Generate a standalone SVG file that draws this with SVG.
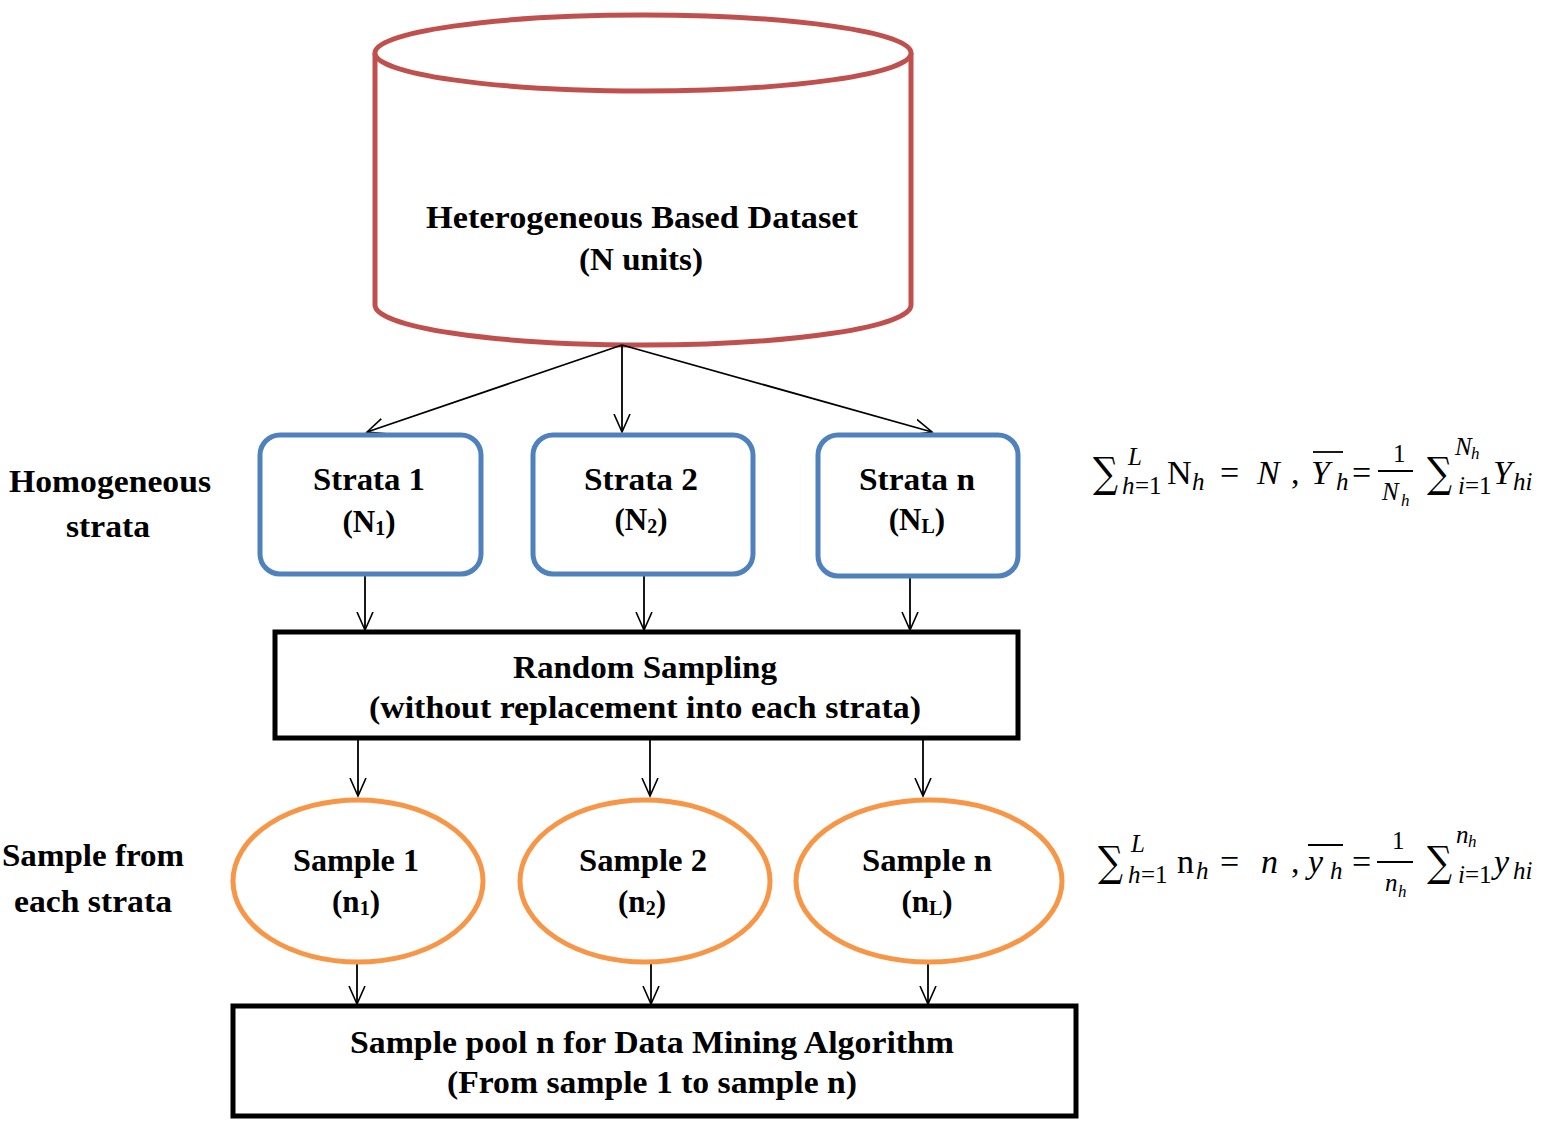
<svg xmlns="http://www.w3.org/2000/svg" width="1542" height="1121" viewBox="0 0 1542 1121">
<defs>
<marker id="arr" viewBox="0 0 20 20" refX="18" refY="10" markerWidth="20" markerHeight="20" markerUnits="userSpaceOnUse" orient="auto">
<polyline points="0,2 18,10 0,18" fill="none" stroke="#000" stroke-width="1.6"/>
</marker>
<style>
.t{font-family:"Liberation Serif","Times New Roman",serif;font-weight:bold;font-size:31px;fill:#000;text-anchor:middle}
.m{font-family:"Liberation Serif","DejaVu Serif",serif;font-size:34px;fill:#000}
.mi{font-family:"Liberation Serif","DejaVu Serif",serif;font-style:italic;font-size:34px;fill:#000}
.sg{font-family:"DejaVu Serif","Liberation Serif",serif;font-size:42px;fill:#000}
.s{font-family:"Liberation Serif","DejaVu Serif",serif;font-size:25px;fill:#000}
.si{font-family:"Liberation Serif","DejaVu Serif",serif;font-style:italic;font-size:25px;fill:#000}
.ss{font-family:"Liberation Serif","DejaVu Serif",serif;font-style:italic;font-size:17px;fill:#000}
.c{stroke:#000;stroke-width:1.8;fill:none;marker-end:url(#arr)}
.strata{fill:#fff;stroke:#4F81BD;stroke-width:5}
.samp{fill:#fff;stroke:#F79646;stroke-width:5}
.box{fill:#fff;stroke:#000;stroke-width:5}
.ol{stroke:#000;stroke-width:1.8}
</style>
</defs>
<rect width="1542" height="1121" fill="#fff"/>

<g id="dataset">
<path d="M375,53 L375,305 A268,40 0 0 0 911,305 L911,53" fill="#fff" stroke="#C0504D" stroke-width="5"/>
<ellipse cx="643" cy="53" rx="268" ry="38" fill="#fff" stroke="#C0504D" stroke-width="5"/>
<text class="t" x="642" y="228" textLength="432" lengthAdjust="spacingAndGlyphs">Heterogeneous Based Dataset</text>
<text class="t" x="641" y="270" textLength="124" lengthAdjust="spacingAndGlyphs">(N units)</text>
</g>

<g id="connectors">
<line class="c" x1="622" y1="345" x2="367" y2="432"/>
<line class="c" x1="622" y1="345" x2="622" y2="432"/>
<line class="c" x1="622" y1="345" x2="932" y2="432"/>
<line class="c" x1="365" y1="576" x2="365" y2="630"/>
<line class="c" x1="644" y1="576" x2="644" y2="630"/>
<line class="c" x1="910" y1="578" x2="910" y2="630"/>
<line class="c" x1="358" y1="740" x2="358" y2="796"/>
<line class="c" x1="650" y1="740" x2="650" y2="796"/>
<line class="c" x1="923" y1="740" x2="923" y2="796"/>
<line class="c" x1="357" y1="963" x2="357" y2="1004"/>
<line class="c" x1="651" y1="963" x2="651" y2="1004"/>
<line class="c" x1="928" y1="963" x2="928" y2="1004"/>
</g>

<g id="strata1">
<rect class="strata" x="260" y="435" width="221" height="139" rx="20"/>
<text class="t" x="369" y="490" textLength="112" lengthAdjust="spacingAndGlyphs">Strata 1</text>
<text class="t" x="369" y="532">(N<tspan font-size="20" dy="3">1</tspan><tspan dy="-3">)</tspan></text>
</g>
<g id="strata2">
<rect class="strata" x="533" y="435" width="220" height="139" rx="20"/>
<text class="t" x="641" y="490" textLength="114" lengthAdjust="spacingAndGlyphs">Strata 2</text>
<text class="t" x="641" y="530">(N<tspan font-size="20" dy="3">2</tspan><tspan dy="-3">)</tspan></text>
</g>
<g id="strata3">
<rect class="strata" x="818" y="435" width="200" height="141" rx="20"/>
<text class="t" x="917" y="490" textLength="116" lengthAdjust="spacingAndGlyphs">Strata n</text>
<text class="t" x="917" y="530">(N<tspan font-size="20" dy="3">L</tspan><tspan dy="-3">)</tspan></text>
</g>

<g id="random">
<rect class="box" x="275" y="632" width="743" height="106"/>
<text class="t" x="645" y="678" textLength="264" lengthAdjust="spacingAndGlyphs">Random Sampling</text>
<text class="t" x="645" y="718" textLength="552" lengthAdjust="spacingAndGlyphs">(without replacement into each strata)</text>
</g>

<g id="sample1">
<ellipse class="samp" cx="358" cy="881" rx="125" ry="81"/>
<text class="t" x="356" y="871" textLength="126" lengthAdjust="spacingAndGlyphs">Sample 1</text>
<text class="t" x="356" y="912">(n<tspan font-size="20" dy="3">1</tspan><tspan dy="-3">)</tspan></text>
</g>
<g id="sample2">
<ellipse class="samp" cx="645" cy="881" rx="125" ry="81"/>
<text class="t" x="643" y="871" textLength="128" lengthAdjust="spacingAndGlyphs">Sample 2</text>
<text class="t" x="642" y="912">(n<tspan font-size="20" dy="3">2</tspan><tspan dy="-3">)</tspan></text>
</g>
<g id="sample3">
<ellipse class="samp" cx="929" cy="881" rx="133" ry="81"/>
<text class="t" x="927" y="871" textLength="130" lengthAdjust="spacingAndGlyphs">Sample n</text>
<text class="t" x="927" y="912">(n<tspan font-size="20" dy="3">L</tspan><tspan dy="-3">)</tspan></text>
</g>

<g id="pool">
<rect class="box" x="233" y="1006" width="843" height="110"/>
<text class="t" x="652" y="1053" textLength="604" lengthAdjust="spacingAndGlyphs">Sample pool n for Data Mining Algorithm</text>
<text class="t" x="652" y="1093" textLength="410" lengthAdjust="spacingAndGlyphs">(From sample 1 to sample n)</text>
</g>

<g id="label-strata">
<text class="t" x="110" y="492" textLength="202" lengthAdjust="spacingAndGlyphs">Homogeneous</text>
<text class="t" x="108" y="537" textLength="84" lengthAdjust="spacingAndGlyphs">strata</text>
</g>
<g id="label-sample">
<text class="t" x="93" y="866" textLength="182" lengthAdjust="spacingAndGlyphs">Sample from</text>
<text class="t" x="93" y="912" textLength="158" lengthAdjust="spacingAndGlyphs">each strata</text>
</g>

<g id="formula1">
<text class="sg" x="1093" y="487" textLength="25" lengthAdjust="spacingAndGlyphs">∑</text>
<text class="si" x="1128" y="465" font-size="22">L</text>
<text class="si" x="1122" y="494">h</text><text class="s" x="1135" y="494">=1</text>
<text class="m" x="1167" y="484">N</text><text class="si" x="1192" y="490">h</text>
<text class="m" x="1220" y="484">=</text>
<text class="mi" x="1257" y="484">N</text>
<text class="m" x="1291" y="484">,</text>
<line class="ol" x1="1313" y1="452" x2="1343" y2="452"/>
<text class="mi" x="1311" y="484">Y</text><text class="si" x="1336" y="490">h</text>
<text class="m" x="1352" y="484">=</text>
<text class="s" x="1393" y="462">1</text>
<line class="ol" x1="1378" y1="471" x2="1413" y2="471" stroke-width="1.6"/>
<text class="si" x="1382" y="500">N</text><text class="ss" x="1401" y="506">h</text>
<text class="sg" x="1427" y="487" textLength="25" lengthAdjust="spacingAndGlyphs">∑</text>
<text class="si" x="1455" y="455" font-size="22">N</text><text class="ss" x="1471" y="459">h</text>
<text class="si" x="1458" y="494">i</text><text class="s" x="1465" y="494">=1</text>
<text class="mi" x="1493" y="484">Y</text><text class="si" x="1513" y="490">hi</text>
</g>

<g id="formula2">
<text class="sg" x="1098" y="876" textLength="25" lengthAdjust="spacingAndGlyphs">∑</text>
<text class="si" x="1131" y="852" font-size="22">L</text>
<text class="si" x="1128" y="883">h</text><text class="s" x="1141" y="883">=1</text>
<text class="m" x="1177" y="873">n</text><text class="si" x="1196" y="879">h</text>
<text class="m" x="1220" y="873">=</text>
<text class="mi" x="1261" y="873">n</text>
<text class="m" x="1291" y="873">,</text>
<line class="ol" x1="1308" y1="845" x2="1343" y2="845"/>
<text class="mi" x="1308" y="873">y</text><text class="si" x="1330" y="879">h</text>
<text class="m" x="1352" y="873">=</text>
<text class="s" x="1392" y="849">1</text>
<line class="ol" x1="1377" y1="862" x2="1413" y2="862" stroke-width="1.6"/>
<text class="si" x="1385" y="891">n</text><text class="ss" x="1398" y="897">h</text>
<text class="sg" x="1427" y="876" textLength="25" lengthAdjust="spacingAndGlyphs">∑</text>
<text class="si" x="1456" y="843" font-size="22">n</text><text class="ss" x="1468" y="847">h</text>
<text class="si" x="1458" y="883">i</text><text class="s" x="1465" y="883">=1</text>
<text class="mi" x="1494" y="873">y</text><text class="si" x="1513" y="879">hi</text>
</g>
</svg>
